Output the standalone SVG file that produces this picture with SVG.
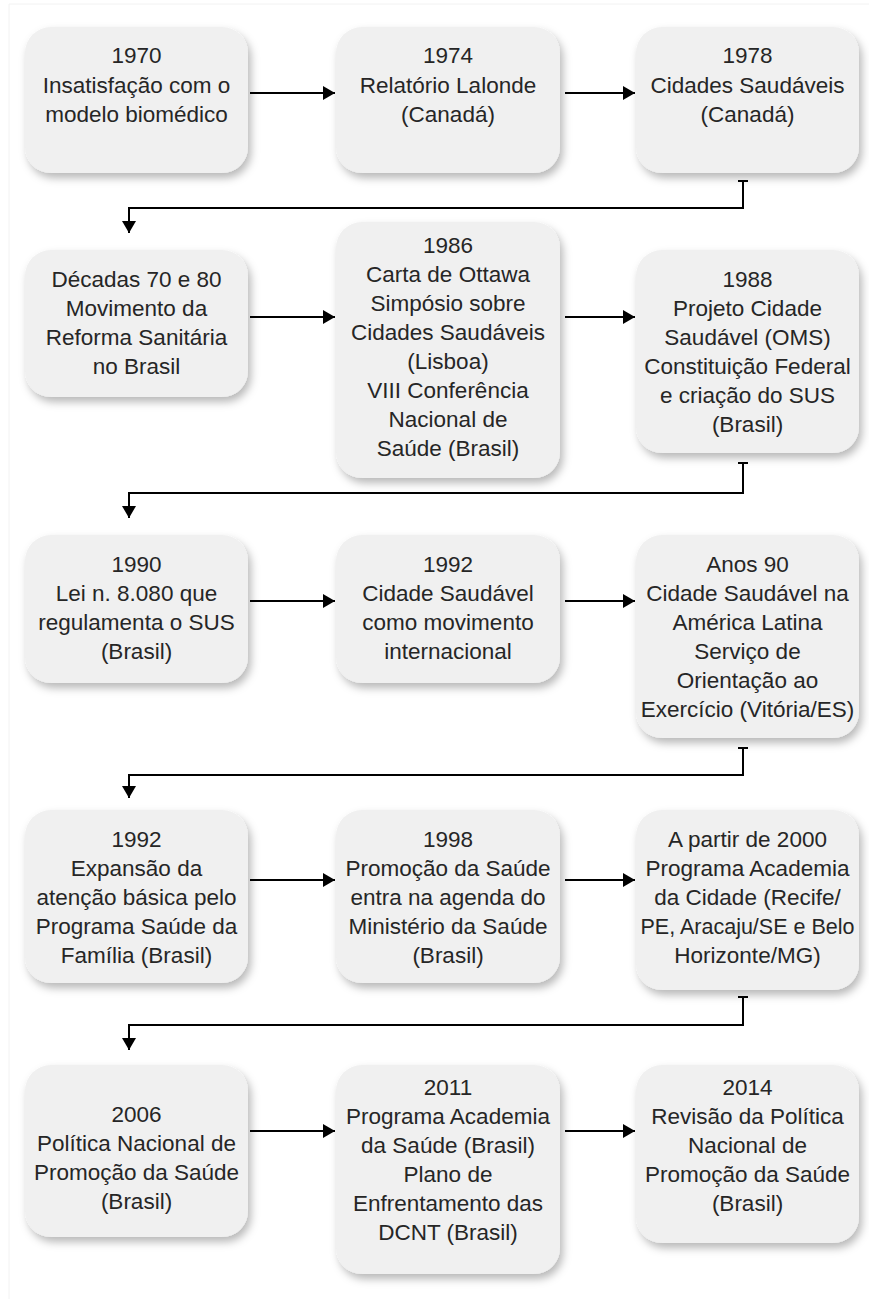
<svg xmlns="http://www.w3.org/2000/svg" width="869" height="1299" viewBox="0 0 869 1299">
<style>
.box{fill:#f0f0f0;filter:url(#sh)}
.t{font-family:"Liberation Sans",Arial,sans-serif;font-size:22.5px;fill:#262626;text-anchor:middle}
.c{fill:none;stroke:#000;stroke-width:2}
</style>
<defs>
<filter id="sh" x="-10%" y="-10%" width="125%" height="130%">
<feDropShadow dx="3" dy="5" stdDeviation="4" flood-color="#000" flood-opacity="0.28"/>
</filter>
<marker id="ah" viewBox="0 0 12 14" refX="12" refY="7" markerWidth="12" markerHeight="14" markerUnits="userSpaceOnUse" orient="auto">
<path d="M0,0 L12,7 L0,14 Z" fill="#000"/>
</marker>
</defs>
<rect width="869" height="1299" fill="#fff"/>
<path d="M9,1299 V4 H869" fill="none" stroke="#f2f2f2" stroke-width="1"/>

<g id="n1970"><rect class="box" x="25" y="27" width="223" height="146" rx="26"/>
<text class="t" x="136.5" y="63">1970</text><text class="t" x="136.5" y="93">Insatisfação com o</text><text class="t" x="136.5" y="122">modelo biomédico</text></g>
<g id="n1974"><rect class="box" x="336" y="27" width="224" height="146" rx="26"/>
<text class="t" x="448" y="63">1974</text><text class="t" x="448" y="93">Relatório Lalonde</text><text class="t" x="448" y="122">(Canadá)</text></g>
<g id="n1978"><rect class="box" x="636" y="27" width="223" height="146" rx="26"/>
<text class="t" x="747.5" y="63">1978</text><text class="t" x="747.5" y="93">Cidades Saudáveis</text><text class="t" x="747.5" y="122">(Canadá)</text></g>

<g id="n7080"><rect class="box" x="25" y="250" width="223" height="147" rx="26"/>
<text class="t" x="136.5" y="287">Décadas 70 e 80</text><text class="t" x="136.5" y="316">Movimento da</text><text class="t" x="136.5" y="345">Reforma Sanitária</text><text class="t" x="136.5" y="374">no Brasil</text></g>
<g id="n1986"><rect class="box" x="336" y="222" width="224" height="256" rx="26"/>
<text class="t" x="448" y="253">1986</text><text class="t" x="448" y="282">Carta de Ottawa</text><text class="t" x="448" y="311">Simpósio sobre</text><text class="t" x="448" y="340">Cidades Saudáveis</text><text class="t" x="448" y="369">(Lisboa)</text><text class="t" x="448" y="398">VIII Conferência</text><text class="t" x="448" y="427">Nacional de</text><text class="t" x="448" y="456">Saúde (Brasil)</text></g>
<g id="n1988"><rect class="box" x="636" y="250" width="223" height="203" rx="26"/>
<text class="t" x="747.5" y="287">1988</text><text class="t" x="747.5" y="316">Projeto Cidade</text><text class="t" x="747.5" y="345">Saudável (OMS)</text><text class="t" x="747.5" y="374">Constituição Federal</text><text class="t" x="747.5" y="403">e criação do SUS</text><text class="t" x="747.5" y="432">(Brasil)</text></g>

<g id="n1990"><rect class="box" x="25" y="535" width="223" height="148" rx="26"/>
<text class="t" x="136.5" y="572">1990</text><text class="t" x="136.5" y="601">Lei n. 8.080 que</text><text class="t" x="136.5" y="630">regulamenta o SUS</text><text class="t" x="136.5" y="659">(Brasil)</text></g>
<g id="n1992a"><rect class="box" x="336" y="535" width="224" height="148" rx="26"/>
<text class="t" x="448" y="572">1992</text><text class="t" x="448" y="601">Cidade Saudável</text><text class="t" x="448" y="630">como movimento</text><text class="t" x="448" y="659">internacional</text></g>
<g id="nanos90"><rect class="box" x="636" y="535" width="223" height="203" rx="26"/>
<text class="t" x="747.5" y="572">Anos 90</text><text class="t" x="747.5" y="601">Cidade Saudável na</text><text class="t" x="747.5" y="630">América Latina</text><text class="t" x="747.5" y="659">Serviço de</text><text class="t" x="747.5" y="688">Orientação ao</text><text class="t" x="747.5" y="717">Exercício (Vitória/ES)</text></g>

<g id="n1992b"><rect class="box" x="25" y="810" width="223" height="173" rx="26"/>
<text class="t" x="136.5" y="847">1992</text><text class="t" x="136.5" y="876">Expansão da</text><text class="t" x="136.5" y="905">atenção básica pelo</text><text class="t" x="136.5" y="934">Programa Saúde da</text><text class="t" x="136.5" y="963">Família (Brasil)</text></g>
<g id="n1998"><rect class="box" x="336" y="810" width="224" height="173" rx="26"/>
<text class="t" x="448" y="847">1998</text><text class="t" x="448" y="876">Promoção da Saúde</text><text class="t" x="448" y="905">entra na agenda do</text><text class="t" x="448" y="934">Ministério da Saúde</text><text class="t" x="448" y="963">(Brasil)</text></g>
<g id="n2000"><rect class="box" x="636" y="810" width="223" height="180" rx="26"/>
<text class="t" x="747.5" y="847">A partir de 2000</text><text class="t" x="747.5" y="876">Programa Academia</text><text class="t" x="747.5" y="905">da Cidade (Recife/</text><text class="t" x="747.5" y="934" textLength="214" lengthAdjust="spacingAndGlyphs">PE, Aracaju/SE e Belo</text><text class="t" x="747.5" y="963">Horizonte/MG)</text></g>

<g id="n2006"><rect class="box" x="25" y="1065" width="223" height="172" rx="26"/>
<text class="t" x="136.5" y="1122">2006</text><text class="t" x="136.5" y="1151">Política Nacional de</text><text class="t" x="136.5" y="1180">Promoção da Saúde</text><text class="t" x="136.5" y="1209">(Brasil)</text></g>
<g id="n2011"><rect class="box" x="336" y="1065" width="224" height="209" rx="26"/>
<text class="t" x="448" y="1095">2011</text><text class="t" x="448" y="1124">Programa Academia</text><text class="t" x="448" y="1153">da Saúde (Brasil)</text><text class="t" x="448" y="1182">Plano de</text><text class="t" x="448" y="1211">Enfrentamento das</text><text class="t" x="448" y="1240">DCNT (Brasil)</text></g>
<g id="n2014"><rect class="box" x="636" y="1065" width="223" height="178" rx="26"/>
<text class="t" x="747.5" y="1095">2014</text><text class="t" x="747.5" y="1124">Revisão da Política</text><text class="t" x="747.5" y="1153">Nacional de</text><text class="t" x="747.5" y="1182">Promoção da Saúde</text><text class="t" x="747.5" y="1211">(Brasil)</text></g>

<g id="connectors">
<path class="c" d="M250,93 H335" marker-end="url(#ah)"/>
<path class="c" d="M565,93 H635" marker-end="url(#ah)"/>
<path class="c" d="M738,181 H748 M743,181 V208 H129 V233" marker-end="url(#ah)"/>
<path class="c" d="M250,317 H335" marker-end="url(#ah)"/>
<path class="c" d="M565,317 H635" marker-end="url(#ah)"/>
<path class="c" d="M738,463 H748 M743,463 V493 H129 V518" marker-end="url(#ah)"/>
<path class="c" d="M250,601 H335" marker-end="url(#ah)"/>
<path class="c" d="M565,601 H635" marker-end="url(#ah)"/>
<path class="c" d="M738,748 H748 M743,748 V775 H129 V798" marker-end="url(#ah)"/>
<path class="c" d="M250,880 H335" marker-end="url(#ah)"/>
<path class="c" d="M565,880 H635" marker-end="url(#ah)"/>
<path class="c" d="M738,997 H748 M743,997 V1025 H129 V1050" marker-end="url(#ah)"/>
<path class="c" d="M250,1131 H335" marker-end="url(#ah)"/>
<path class="c" d="M565,1131 H635" marker-end="url(#ah)"/>
</g>
</svg>
